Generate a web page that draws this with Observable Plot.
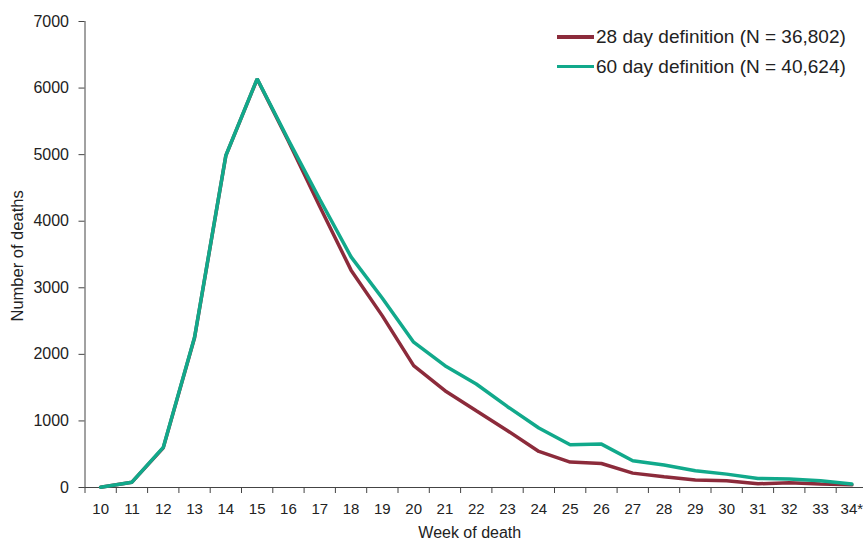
<!DOCTYPE html>
<html><head><meta charset="utf-8">
<script src="https://cdn.jsdelivr.net/npm/d3@7"></script>
<script src="https://cdn.jsdelivr.net/npm/@observablehq/plot@0.6"></script>
<style>
body{margin:0;background:#fff;font-family:"Liberation Sans",Arial,sans-serif;}
#wrap{position:relative;width:863px;height:541px;overflow:hidden}
.legend{position:absolute;left:557px;top:22px;font-size:19px;color:#222;line-height:1}
.legend .row{display:flex;align-items:center;height:29.5px;white-space:nowrap}
.legend .sw{display:inline-block;width:37px;height:3.5px;margin-right:2px}
</style></head><body><div id="wrap"></div>
<script>
const weeks = [10,11,12,13,14,15,16,17,18,19,20,21,22,23,24,25,26,27,28,29,30,31,32,33,34];
const weekLabels = ["10","11","12","13","14","15","16","17","18","19","20","21","22","23","24","25","26","27","28","29","30","31","32","33","34*"];
const deaths28 = [5,80,595,2250,4985,6135,5200,4220,3265,2578,1830,1454,1153,853,542,382,361,216,161,111,101,56,71,51,40];
const deaths60 = [5,80,602,2258,4987,6139,5219,4330,3465,2843,2183,1830,1555,1214,893,642,652,401,337,251,201,136,126,101,51];
const yTicks = [0,1000,2000,3000,4000,5000,6000,7000];
const seriesNames = ["28 day definition (N = 36,802)","60 day definition (N = 40,624)"];
const seriesColors = ["#8c2b3b","#11a98b"];
const seriesValues = [deaths28, deaths60];

const rows = seriesNames.flatMap((name, s) => weeks.map((w, i) => ({week: w, deaths: seriesValues[s][i], series: name})));

const chart = Plot.plot({
  width: 863, height: 541,
  marginLeft: 84.5, marginRight: 1, marginTop: 21, marginBottom: 54,
  style: {fontFamily: '"Liberation Sans", Arial, sans-serif', fontSize: "15px", color: "#222", background: "#fff"},
  x: {type: "linear", domain: [9.5, 34.5], range: [84.5, 867]},
  y: {domain: [0, 7000]},
  color: {domain: seriesNames, range: seriesColors},
  marks: [
    Plot.axisY({ticks: yTicks, tickSize: 6, tickPadding: 10, tickFormat: d => String(d), label: null, stroke: "#444", fontSize: 16}),
    Plot.axisX({ticks: weeks.map(w => w - 0.5), tickSize: 6, tickFormat: () => "", label: null, stroke: "#444"}),
    Plot.axisX({ticks: weeks, tickSize: 0, tickPadding: 16, tickFormat: d => weekLabels[weeks.indexOf(d)], label: null}),
    Plot.frame({anchor: "left", stroke: "#444"}),
    Plot.frame({anchor: "bottom", stroke: "#444"}),
    Plot.line(rows, {x: "week", y: "deaths", z: "series", stroke: "series", strokeWidth: 3.5, strokeLinejoin: "miter"}),
    Plot.text(["Number of deaths"], {text: d => d, frameAnchor: "left", rotate: -90, dx: -67, dy: 67, fontSize: 16.5, fill: "#222"}),
    Plot.text(["Week of death"], {text: d => d, frameAnchor: "bottom", dx: -4, dy: 45, lineAnchor: "middle", fontSize: 16, fill: "#222"})
  ]
});
const wrap = document.getElementById("wrap");
wrap.appendChild(chart);
const legend = document.createElement("div");
legend.className = "legend";
seriesNames.forEach((name, i) => {
  const row = document.createElement("div");
  row.className = "row";
  const sw = document.createElement("span");
  sw.className = "sw";
  sw.style.background = seriesColors[i];
  const t = document.createElement("span");
  t.textContent = name;
  row.appendChild(sw); row.appendChild(t);
  legend.appendChild(row);
});
wrap.appendChild(legend);
</script></body></html>
